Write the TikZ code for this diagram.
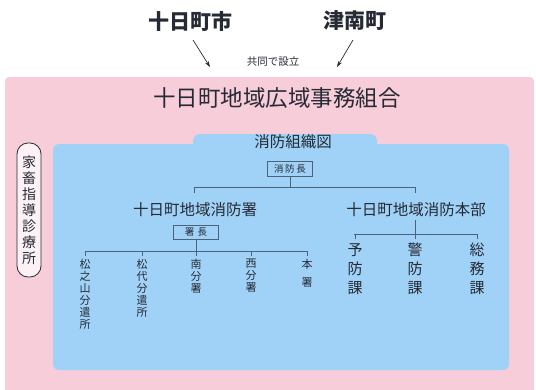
\documentclass[tikz,border=0pt]{standalone}
\usepackage{fontspec}
\setmainfont{Noto Sans CJK JP}
\usetikzlibrary{arrows.meta}
\definecolor{pinkbg}{RGB}{247,205,218}
\definecolor{bluebg}{RGB}{160,210,247}
\definecolor{linecol}{RGB}{75,98,122}
\definecolor{inkcol}{RGB}{38,42,52}
\definecolor{labelbg}{RGB}{252,242,246}
\tikzset{
  txt/.style={inner sep=0pt, text=inkcol},
  tate/.style={txt, align=center, anchor=north},
  postbox/.style={draw=linecol, line width=0.6pt, inner sep=0pt, minimum width=45pt, minimum height=15pt, text=inkcol, font=\fontsize{9.5}{10}\selectfont},
  orgline/.style={draw=linecol, line width=0.8pt},
  arr/.style={draw=inkcol, line width=0.7pt, -{Stealth[length=6pt,width=4pt]}}
}
\begin{document}
\begin{tikzpicture}[x=1pt,y=-1pt]
\useasboundingbox (0,0) rectangle (536,389);
% Draw the two towns and the arrows
\node[txt, font=\fontsize{21}{22}\selectfont\bfseries] (city) at (190,21) {十日町市};
\node[txt, font=\fontsize{21}{22}\selectfont\bfseries] (town) at (355,21) {津南町};
\coordinate (cityfoot) at (193,40);
\coordinate (towntip) at (337,67);
\coordinate (townfoot) at (353,40);
\coordinate (citytip) at (210,67);
\draw[arr] (cityfoot) -- (citytip);
\draw[arr] (townfoot) -- (towntip);
\node[txt, font=\fontsize{10.5}{11}\selectfont] (joint) at (273,62) {共同で設立};
% Draw the union background
\fill[pinkbg, rounded corners=4pt] (5,77) rectangle (534,400);
\node[txt, font=\fontsize{22.5}{24}\selectfont] (union) at (277,98) {十日町地域広域事務組合};
% Draw the side label
\node[draw=inkcol, line width=0.8pt, fill=labelbg, rounded corners=11pt, minimum width=24pt, minimum height=134pt, inner sep=0pt] (clinicbox) at (29,210) {};
\node[tate, anchor=center, font=\fontsize{14}{16}\selectfont] (clinic) at (clinicbox.center) {家\\畜\\指\\導\\診\\療\\所};
% Draw the fire brigade panel with its tab
\fill[bluebg, rounded corners=6pt] (53,144) rectangle (509,370);
\fill[bluebg, rounded corners=7pt] (193,134) rectangle (377,156);
\node[txt, font=\fontsize{15.5}{16}\selectfont] (chart) at (293,142) {消防組織図};
% Label the chief and the two branches
\node[postbox] (chief) at (290,169) {消\,防\,長};
\node[txt, font=\fontsize{15.5}{16}\selectfont] (station) at (195,210) {十日町地域消防署};
\node[txt, font=\fontsize{15.5}{16}\selectfont] (hq) at (416,210) {十日町地域消防本部};
\node[postbox, minimum height=14pt] (head) at (196,232) {署\,\,長};
\coordinate (busA) at (194,187);
\coordinate (busB) at (415,187);
\draw[orgline] (chief.south) -- (chief.south |- busA);
\draw[orgline] (busA) -- (busB);
\draw[orgline] (busA) -- ++(0,6);
\draw[orgline] (busB) -- ++(0,6);
% Draw the sub stations
\node[tate, font=\fontsize{11}{12}\selectfont] (matsunoyama) at (85,259) {松\\之\\山\\分\\遣\\所};
\node[tate, font=\fontsize{11}{12}\selectfont] (matsudai) at (142,259) {松\\代\\分\\遣\\所};
\node[tate, font=\fontsize{11}{12}\selectfont] (south) at (196,259) {南\\分\\署};
\node[tate, font=\fontsize{11}{12}\selectfont] (west) at (251,259) {西\\分\\署};
\node[tate, font=\fontsize{11}{18}\selectfont] (main) at (307,259) {本\\署};
\coordinate (busC) at (85,251);
\coordinate (busD) at (307,251);
\draw[orgline] (head.south) -- (head.south |- busC);
\draw[orgline] (busC) -- (busD);
\foreach \sub in {matsunoyama,matsudai,south,west,main}
  \draw[orgline] (\sub.north |- busC) -- ++(0,5);
% Draw the sections of the headquarters
\node[tate, font=\fontsize{15}{19}\selectfont] (prevent) at (355,243) {予\\防\\課};
\node[tate, font=\fontsize{15}{19}\selectfont] (guard) at (415,243) {警\\防\\課};
\node[tate, font=\fontsize{15}{19}\selectfont] (general) at (477,243) {総\\務\\課};
\coordinate (busE) at (354,234);
\coordinate (busF) at (477,234);
\draw[orgline] (hq.south -| busB) ++(0,3) -- (busB |- busE);
\draw[orgline] (busE) -- (busF);
\foreach \sec in {prevent,guard,general}
  \draw[orgline] (\sec.north |- busE) -- ++(0,5);
\end{tikzpicture}
\end{document}
